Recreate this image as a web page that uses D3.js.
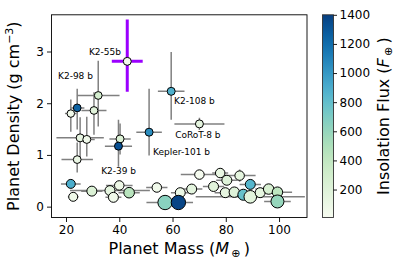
<!DOCTYPE html>
<html>
<head>
<meta charset="utf-8">
<script src="https://cdn.jsdelivr.net/npm/d3@7"></script>
<style>
body { margin: 0; background: #fff; }
svg { display: block; font-family: "DejaVu Sans", sans-serif; }
</style>
</head>
<body>
<svg id="chart"></svg>
<script>
const width = 407;
const height = 271;
const margin = { top: 14.8, right: 100, bottom: 53.5, left: 51.5 };

// planet mass (Earth masses) and its error
const mass    = [43.0, 59.5, 70.1, 51.2, 24.2, 32.1, 30.5, 21.8, 25.3, 27.8, 40.3, 39.7, 24.2,
                 21.8, 22.7, 29.7, 36.5, 40.0, 37.8, 43.7, 54.1, 70.1, 77.9, 62.9, 67.2, 57.2, 62.2,
                 75.4, 79.8, 85.2, 80.4, 83.2, 89.2, 86.6, 89.2, 92.9, 96.1, 99.4, 99.4];
const massErr = [5.8, 5.0, 9.4, 4.8, 2.7, 8.0, 4.7, 2.2, 8.9, 3.0, 4.0, 5.1, 5.9,
                 3.7, 2.0, 4.0, 15.0, 5.0, 3.0, 4.0, 4.0, 7.0, 3.0, 3.5, 4.0, 7.0, 5.5,
                 4.0, 4.0, 6.0, 4.0, 4.0, 4.0, 5.0, 20.5, 5.0, 5.0, 5.5, 5.0];
// bulk density (g cm^-3) and its lower / upper error
const density = [2.81, 2.23, 1.60, 1.44, 1.91, 2.15, 1.86, 1.80, 1.33, 1.30, 1.31, 1.17, 0.91,
                 0.44, 0.19, 0.30, 0.31, 0.41, 0.18, 0.27, 0.37, 0.62, 0.65, 0.27, 0.34, 0.08, 0.08,
                 0.39, 0.27, 0.60, 0.51, 0.28, 0.43, 0.23, 0.19, 0.27, 0.34, 0.28, 0.10];
const densErrLo = [0.59, 0.55, 0.12, 0.45, 0.42, 0.60, 0.47, 0.35, 0.40, 0.33, 0.30, 0.40, 0.25,
                   0.05, 0.05, 0.05, 0.06, 0.08, 0.05, 0.05, 0.05, 0.06, 0.08, 0.05, 0.05, 0.03, 0.03,
                   0.05, 0.05, 0.12, 0.06, 0.05, 0.05, 0.05, 0.04, 0.05, 0.05, 0.05, 0.04];
const densErrHi = [0.81, 0.76, 0.12, 0.84, 0.37, 0.67, 0.35, 0.27, 0.40, 0.44, 0.30, 0.51, 0.33,
                   0.05, 0.05, 0.05, 0.06, 0.08, 0.05, 0.05, 0.05, 0.06, 0.08, 0.05, 0.05, 0.03, 0.03,
                   0.05, 0.05, 0.12, 0.06, 0.05, 0.05, 0.05, 0.04, 0.05, 0.05, 0.05, 0.04];
// insolation flux (Earth units) and planet radius (Earth radii)
const flux   = [40, 880, 150, 1050, 1250, 280, 180, 60, 120, 60, 230, 1330, 100,
                900, 70, 230, 150, 80, 60, 450, 50, 20, 120, 100, 160, 650, 1380,
                180, 140, 150, 200, 200, 850, 780, 170, 150, 250, 420, 600];
const radius = [3.4, 3.4, 3.4, 3.4, 3.2, 3.2, 3.2, 3.0, 3.4, 3.4, 3.4, 3.4, 3.2,
                4.3, 4.3, 5.3, 5.3, 4.8, 5.3, 6.0, 4.8, 4.8, 4.8, 5.3, 5.3, 11, 11,
                5.3, 5.3, 4.8, 5.3, 5.8, 5.3, 6.5, 8.5, 5.3, 5.8, 5.8, 9.0];

// annotated planets: name, text anchor in data units
const labelNames   = ["K2-55b", "K2-98 b", "K2-108 b", "CoRoT-8 b", "Kepler-101 b", "K2-39 b"];
const labelMass    = [28.6, 17.0, 60.6, 61.0, 52.7, 33.2];
const labelDensity = [2.94, 2.46, 1.99, 1.32, 0.99, 0.64];

const highlight = 0; // K2-55b

const xTicks = [20, 40, 60, 80, 100];
const yTicks = [0, 1, 2, 3];
const cTicks = [200, 400, 600, 800, 1000, 1200, 1400];

const data = mass.map((m, i) => ({
  m, d: density[i], me: massErr[i], dlo: densErrLo[i], dhi: densErrHi[i],
  f: flux[i], r: radius[i], i
}));

const svg = d3.select("#chart").attr("width", width).attr("height", height);

const xScale = d3.scaleLinear().domain([14.55, 110.5]).range([margin.left, 307]);
const yScale = d3.scaleLinear().domain([-0.21, 3.71]).range([height - margin.bottom, margin.top]);
const color = d3.scaleSequential(d3.interpolateGnBu).domain([8, 1400]);
const rScale = d3.scaleSqrt().domain([0, 12]).range([0, 7.5]);

svg.append("defs").append("clipPath").attr("id", "plotclip")
  .append("rect")
  .attr("x", xScale.range()[0]).attr("y", yScale.range()[1])
  .attr("width", xScale.range()[1] - xScale.range()[0])
  .attr("height", yScale.range()[0] - yScale.range()[1]);

const plot = svg.append("g").attr("clip-path", "url(#plotclip)");

// error bars
const err = plot.append("g");
data.forEach(p => {
  const hl = p.i === highlight;
  const stroke = hl ? "#9b00ff" : "#808080";
  const sw = hl ? 3 : 1.5;
  err.append("line")
    .attr("x1", xScale(p.m - p.me)).attr("x2", xScale(p.m + p.me))
    .attr("y1", yScale(p.d)).attr("y2", yScale(p.d))
    .attr("stroke", stroke).attr("stroke-width", sw);
  err.append("line")
    .attr("x1", xScale(p.m)).attr("x2", xScale(p.m))
    .attr("y1", yScale(p.d - p.dlo)).attr("y2", yScale(p.d + p.dhi))
    .attr("stroke", stroke).attr("stroke-width", sw);
});

plot.append("g")
  .selectAll("circle")
  .data(data)
  .enter()
  .append("circle")
  .attr("cx", d => xScale(d.m))
  .attr("cy", d => yScale(d.d))
  .attr("r", d => rScale(d.r))
  .attr("fill", d => color(d.f))
  .attr("stroke", "#000")
  .attr("stroke-width", 1);

svg.append("g")
  .selectAll("text")
  .data(labelNames)
  .enter()
  .append("text")
  .attr("x", (d, i) => xScale(labelMass[i]))
  .attr("y", (d, i) => yScale(labelDensity[i]))
  .attr("font-size", "9px")
  .attr("fill", "#000")
  .text(d => d);

// axes
const xAxis = d3.axisBottom(xScale).tickValues(xTicks).tickFormat(d3.format("d")).tickSize(4.5).tickPadding(3);
const yAxis = d3.axisLeft(yScale).tickValues(yTicks).tickFormat(d3.format("d")).tickSize(4.5).tickPadding(3);

const gx = svg.append("g")
  .attr("transform", "translate(0," + yScale.range()[0] + ")")
  .call(xAxis);
const gy = svg.append("g")
  .attr("transform", "translate(" + xScale.range()[0] + ",0)")
  .call(yAxis);
[gx, gy].forEach(g => {
  g.select(".domain").remove();
  g.selectAll("text").attr("font-size", "12px").attr("fill", "#000").attr("font-family", "DejaVu Sans");
  g.selectAll(".tick line").attr("stroke", "#000").attr("stroke-width", 0.9);
});

svg.append("rect")
  .attr("x", xScale.range()[0]).attr("y", yScale.range()[1])
  .attr("width", xScale.range()[1] - xScale.range()[0])
  .attr("height", yScale.range()[0] - yScale.range()[1])
  .attr("fill", "none").attr("stroke", "#000").attr("stroke-width", 0.9);

// axis labels
const xl = svg.append("text")
  .attr("x", (xScale.range()[0] + xScale.range()[1]) / 2)
  .attr("y", 254)
  .attr("text-anchor", "middle")
  .attr("font-size", "16px");
xl.append("tspan").text("Planet Mass (");
xl.append("tspan").attr("font-style", "italic").text("M");
xl.append("tspan").attr("font-size", "11px").attr("dy", 3).text("\u2009\u2295");
xl.append("tspan").attr("dy", -3).text("\u2009)");

const yl = svg.append("text")
  .attr("transform", "translate(19," + ((yScale.range()[0] + yScale.range()[1]) / 2) + ") rotate(-90)")
  .attr("text-anchor", "middle")
  .attr("font-size", "16px");
yl.append("tspan").text("Planet Density (g cm");
yl.append("tspan").attr("font-size", "11px").attr("dy", -6).text("\u22123");
yl.append("tspan").attr("dy", 6).text(")");

// colorbar
const cbX = 322.5, cbW = 11;
const cScale = d3.scaleLinear().domain(color.domain()).range([yScale.range()[0], yScale.range()[1]]);
const grad = svg.select("defs").append("linearGradient")
  .attr("id", "cbgrad").attr("x1", 0).attr("y1", 1).attr("x2", 0).attr("y2", 0);
d3.range(0, 1.0001, 0.05).forEach(t => {
  grad.append("stop").attr("offset", t).attr("stop-color", d3.interpolateGnBu(t));
});
svg.append("rect")
  .attr("x", cbX).attr("y", cScale.range()[1])
  .attr("width", cbW).attr("height", cScale.range()[0] - cScale.range()[1])
  .attr("fill", "url(#cbgrad)")
  .attr("stroke", "#333").attr("stroke-width", 0.9);

const gc = svg.append("g")
  .attr("transform", "translate(" + (cbX + cbW) + ",0)")
  .call(d3.axisRight(cScale).tickValues(cTicks).tickFormat(d3.format("d")).tickSize(3.5).tickPadding(2.5));
gc.select(".domain").remove();
gc.selectAll("text").attr("font-size", "12px").attr("fill", "#000").attr("font-family", "DejaVu Sans");
gc.selectAll(".tick line").attr("stroke", "#000").attr("stroke-width", 0.9);

const cl = svg.append("text")
  .attr("transform", "translate(389," + ((cScale.range()[0] + cScale.range()[1]) / 2) + ") rotate(-90)")
  .attr("text-anchor", "middle")
  .attr("font-size", "16px");
cl.append("tspan").text("Insolation Flux (");
cl.append("tspan").attr("font-style", "italic").text("F");
cl.append("tspan").attr("font-size", "11px").attr("dy", 3).text("\u2009\u2295");
cl.append("tspan").attr("dy", -3).text("\u2009)");
</script>
</body>
</html>
